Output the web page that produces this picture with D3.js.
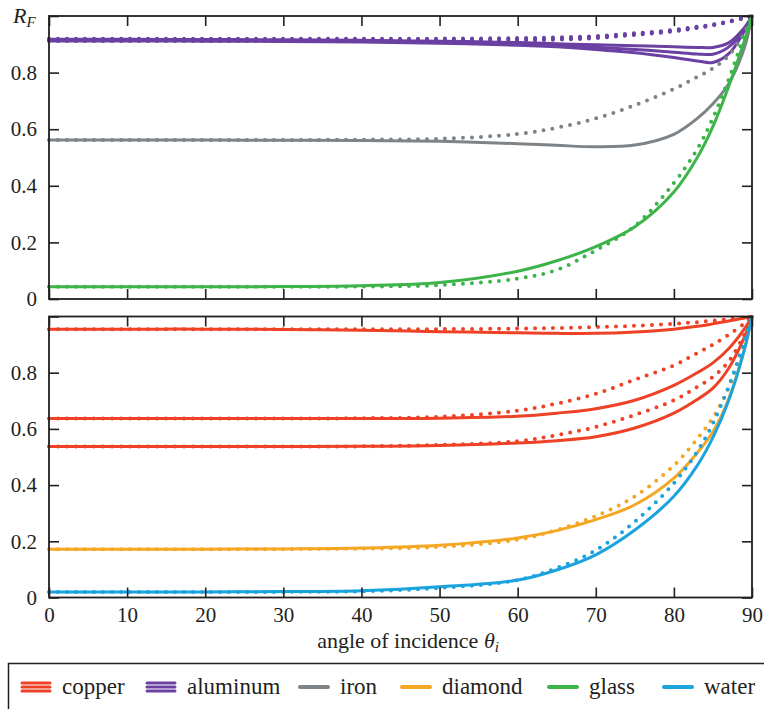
<!DOCTYPE html>
<html>
<head>
<meta charset="utf-8">
<script src="https://cdn.jsdelivr.net/npm/d3@7"></script>
<style>
  body { margin: 0; background: #fff; }
  svg { display: block; }
  .tick text { font-family: "Liberation Serif", "Times New Roman", "DejaVu Serif", serif; font-size: 21px; fill: #231f20; }
  .tick line { stroke: #231f20; stroke-width: 1.6; }
  .lbl { font-family: "Liberation Serif", "Times New Roman", "DejaVu Serif", serif; fill: #231f20; }
</style>
</head>
<body>
<svg id="graph" width="764" height="709"></svg>
<script>
/*******************************************************************************************/
// Data

var angles = [0, 10, 20, 30, 40, 50, 60, 65, 70, 75, 80, 83, 85, 87, 89, 90];

// top panel
var aluminumTop  = [.918, .918, .917, .916, .914, .911, .906, .902, .898, .895, .891, .889, .889, .905, .958, 1];
var aluminumMid  = [.915, .915, .914, .913, .911, .908, .902, .897, .890, .882, .872, .866, .865, .890, .952, 1];
var aluminumLow  = [.912, .912, .911, .910, .908, .904, .897, .891, .882, .870, .853, .841, .836, .866, .945, 1];
var aluminumDot1 = [.912, .912, .912, .912, .912, .912, .914, .916, .922, .933, .946, .958, .967, .979, .993, 1];
var aluminumDot2 = [.916, .916, .916, .916, .916, .916, .918, .920, .925, .936, .948, .960, .968, .980, .993, 1];
var aluminumDot3 = [.920, .920, .920, .920, .920, .920, .922, .924, .929, .939, .951, .962, .970, .981, .994, 1];
var ironSolid    = [.562, .562, .562, .561, .560, .557, .549, .543, .538, .544, .582, .638, .690, .760, .885, 1];
var ironDot      = [.562, .562, .562, .562, .563, .566, .583, .605, .638, .685, .742, .785, .815, .860, .940, 1];
var glassSolid   = [.043, .043, .043, .044, .047, .058, .098, .135, .185, .255, .378, .500, .610, .750, .910, 1];
var glassDot     = [.043, .043, .043, .043, .044, .049, .072, .103, .172, .258, .410, .530, .640, .775, .930, 1];

// bottom panel
var copperR      = [.955, .955, .955, .954, .951, .946, .942, .940, .940, .945, .955, .965, .974, .984, .995, 1];
var copperRDot   = [.955, .955, .955, .955, .955, .955, .957, .959, .962, .967, .974, .980, .985, .990, .997, 1];
var copperG      = [.637, .637, .637, .637, .637, .638, .645, .656, .672, .702, .755, .800, .835, .885, .955, 1];
var copperGDot   = [.637, .637, .637, .637, .638, .643, .665, .690, .725, .775, .826, .870, .900, .935, .975, 1];
var copperB      = [.537, .537, .537, .537, .538, .541, .550, .558, .572, .603, .656, .705, .745, .815, .925, 1];
var copperBDot   = [.537, .537, .537, .537, .538, .543, .556, .578, .607, .650, .702, .750, .785, .840, .935, 1];
var diamondSolid = [.172, .172, .172, .173, .176, .186, .212, .238, .277, .330, .425, .515, .590, .705, .880, 1];
var diamondDot   = [.172, .172, .172, .172, .174, .180, .206, .240, .290, .360, .470, .565, .640, .745, .900, 1];
var waterSolid   = [.020, .020, .020, .021, .024, .038, .062, .098, .152, .240, .360, .470, .570, .700, .880, 1];
var waterDot     = [.020, .020, .020, .020, .022, .034, .062, .105, .168, .270, .407, .520, .620, .750, .910, 1];

var xTicks = [0, 10, 20, 30, 40, 50, 60, 70, 80, 90];
var yTicks = [0, 0.2, 0.4, 0.6, 0.8, 1];

var legendNames = ['copper', 'aluminum', 'iron', 'diamond', 'glass', 'water'];

/*******************************************************************************************/
// Colours and series

var col = { copper: '#ee4126', aluminum: '#6a40a2', iron: '#7e8387', diamond: '#f5a623', glass: '#3db44a', water: '#1ba3de' };

var topSeries = [
  { v: aluminumTop, c: col.aluminum }, { v: aluminumMid, c: col.aluminum }, { v: aluminumLow, c: col.aluminum },
  { v: aluminumDot1, c: col.aluminum, dot: true }, { v: aluminumDot2, c: col.aluminum, dot: true }, { v: aluminumDot3, c: col.aluminum, dot: true },
  { v: ironSolid, c: col.iron }, { v: ironDot, c: col.iron, dot: true },
  { v: glassSolid, c: col.glass }, { v: glassDot, c: col.glass, dot: true }
];
var botSeries = [
  { v: copperR, c: col.copper }, { v: copperRDot, c: col.copper, dot: true },
  { v: copperG, c: col.copper }, { v: copperGDot, c: col.copper, dot: true },
  { v: copperB, c: col.copper }, { v: copperBDot, c: col.copper, dot: true },
  { v: diamondSolid, c: col.diamond }, { v: diamondDot, c: col.diamond, dot: true },
  { v: waterSolid, c: col.water }, { v: waterDot, c: col.water, dot: true }
];

/*******************************************************************************************/
// Scales

var svg = d3.select('#graph');
var xScale = d3.scaleLinear().domain([0, 90]).range([49, 752]);
var yTop = d3.scaleLinear().domain([0, 1]).range([299, 16]);
var yBot = d3.scaleLinear().domain([0, 1]).range([597.5, 316.5]);
var yFmt = function(d){ return d === 0 ? '0' : (d === 1 ? '' : d3.format('.1f')(d)); };

/*******************************************************************************************/
// Panels

function drawPanel(yScale, series, showX){
  var g = svg.append('g');
  var x0 = xScale.range()[0], x1 = xScale.range()[1];
  var y0 = yScale.range()[1], y1 = yScale.range()[0];

  var lineGen = d3.line()
    .x(function(d, i){ return xScale(angles[i]); })
    .y(function(d){ return yScale(d); })
    .curve(d3.curveCatmullRom.alpha(0.5));

  series.forEach(function(s){
    g.append('path').datum(s.v).attr('d', lineGen)
      .attr('fill', 'none').attr('stroke', s.c)
      .attr('stroke-width', s.dot ? 4 : 3)
      .attr('stroke-linecap', 'round')
      .attr('stroke-dasharray', s.dot ? '0 9' : null);
  });

  // axes with inward ticks
  g.append('g').attr('transform', 'translate(' + x0 + ',0)')
    .call(d3.axisLeft(yScale).tickValues(yTicks).tickSize(-10).tickPadding(12).tickFormat(yFmt));
  g.append('g').attr('transform', 'translate(' + x1 + ',0)')
    .call(d3.axisRight(yScale).tickValues(yTicks).tickSize(-10).tickFormat(''));
  g.append('g').attr('transform', 'translate(0,' + y0 + ')')
    .call(d3.axisTop(xScale).tickValues(xTicks).tickSize(-10).tickFormat(''));
  g.append('g').attr('transform', 'translate(0,' + y1 + ')')
    .call(d3.axisBottom(xScale).tickValues(xTicks).tickSize(-10).tickPadding(10)
      .tickFormat(showX ? d3.format('d') : ''));
  g.selectAll('.domain').remove();
  g.selectAll('.tick text').attr('font-family', null);
  g.selectAll('g').attr('font-family', null);

  g.append('rect').attr('x', x0).attr('y', y0).attr('width', x1 - x0).attr('height', y1 - y0)
    .attr('fill', 'none').attr('stroke', '#231f20').attr('stroke-width', 1.8);
}

drawPanel(yTop, topSeries, false);
drawPanel(yBot, botSeries, true);

// R_F label
var rf = svg.append('text').attr('class', 'lbl').attr('x', 13).attr('y', 23)
  .style('font-size', '22px').style('font-style', 'italic');
rf.append('tspan').text('R');
rf.append('tspan').attr('dy', 4).style('font-size', '15px').text('F');

// x label
var xl = svg.append('text').attr('class', 'lbl').attr('x', 408).attr('y', 648)
  .attr('text-anchor', 'middle').style('font-size', '22px');
xl.append('tspan').text('angle of incidence ');
xl.append('tspan').style('font-style', 'italic').text('θ');
xl.append('tspan').attr('dy', 4).style('font-size', '15px').style('font-style', 'italic').text('i');

/*******************************************************************************************/
// Legend

svg.append('rect').attr('x', 8.5).attr('y', 663.5).attr('width', 800).attr('height', 80)
  .attr('fill', 'none').attr('stroke', '#231f20').attr('stroke-width', 1.5);

var legendX = [20, 145, 298, 400, 547, 662];
var legendTriple = { copper: true, aluminum: true };
var ly = 687;

legendNames.forEach(function(name, i){
  var lx = legendX[i];
  var offs = legendTriple[name] ? [-4, 0, 4] : [0];
  offs.forEach(function(o){
    svg.append('line').attr('x1', lx + 2).attr('x2', lx + 30).attr('y1', ly + o).attr('y2', ly + o)
      .attr('stroke', col[name]).attr('stroke-width', legendTriple[name] ? 3 : 4).attr('stroke-linecap', 'round');
  });
  svg.append('text').attr('class', 'lbl').attr('x', lx + 42).attr('y', ly + 7)
    .style('font-size', '23px').text(name);
});
</script>
</body>
</html>
